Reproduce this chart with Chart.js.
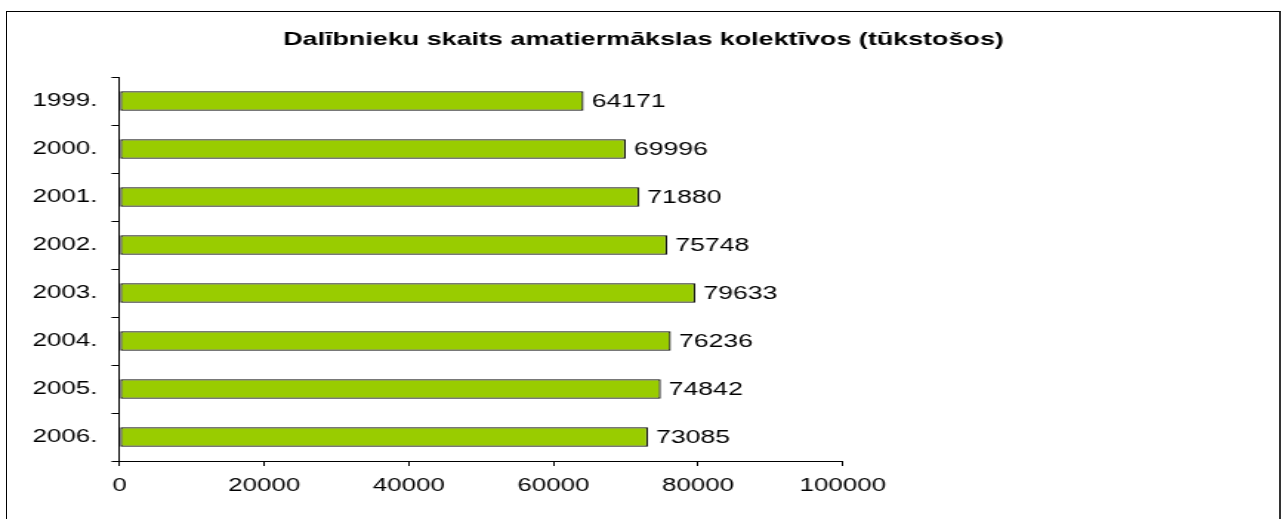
<!DOCTYPE html>
<html>
<head>
<meta charset="utf-8">
<script src="https://cdn.jsdelivr.net/npm/chart.js@4/dist/chart.umd.min.js"></script>
<style>
  body { margin: 0; background: #fff; overflow: hidden; }
  #wrap { position: relative; width: 1284px; height: 519px; }
  #c { position: absolute; left: 0; top: 0; }
  #frame {
    position: absolute; left: 6px; top: 11px; width: 1272px; height: 600px;
    border-left: 1px solid #000; border-top: 1px solid #000; border-right: 2px solid #333;
    pointer-events: none;
  }
</style>
</head>
<body>
<div id="wrap">
  <!-- drawn narrow and stretched wide, like the original picture -->
  <canvas id="c" width="868" height="519" style="width:1284px;height:519px"></canvas>
  <div id="frame"></div>
</div>
<script>
const chartTitle = "Dalībnieku skaits amatiermākslas kolektīvos (tūkstošos)";
const years = ["1999.", "2000.", "2001.", "2002.", "2003.", "2004.", "2005.", "2006."];
const members = [64171, 69996, 71880, 75748, 79633, 76236, 74842, 73085];
const xTicks = [0, 20000, 40000, 60000, 80000, 100000];

const STRETCH = 1284 / 868;
const FONT = '"Liberation Sans", Arial, sans-serif';

Chart.defaults.font.family = FONT;
Chart.defaults.font.size = 17.5;
Chart.defaults.color = "#000";

// title across the whole canvas, not only the plot
const titlePlugin = {
  id: "wideTitle",
  afterDraw(chart) {
    const ctx = chart.ctx;
    ctx.save();
    ctx.font = "bold 18.2px " + FONT;
    ctx.fillStyle = "#000";
    ctx.textAlign = "center";
    ctx.textBaseline = "middle";
    ctx.fillText(chartTitle, chart.width / 2 + 1, 40);
    ctx.restore();
  },
};

// value next to the end of each bar
const valueLabels = {
  id: "valueLabels",
  afterDatasetsDraw(chart) {
    const ctx = chart.ctx;
    const meta = chart.getDatasetMeta(0);
    ctx.save();
    ctx.font = "18px " + FONT;
    ctx.fillStyle = "#000";
    ctx.textAlign = "left";
    ctx.textBaseline = "middle";
    meta.data.forEach((bar, i) => {
      ctx.fillText(String(members[i]), bar.x + 8 / STRETCH, bar.y + 1);
    });
    ctx.restore();
  },
};

const chartRight = 842.7 / STRETCH;

new Chart(document.getElementById("c"), {
  type: "bar",
  data: {
    labels: years,
    datasets: [
      {
        data: members,
        backgroundColor: "#99CC00",
        borderColor: "#111",
        borderWidth: 1.3,
        borderSkipped: false,
        categoryPercentage: 1,
        barPercentage: 0.41,
      },
    ],
  },
  options: {
    indexAxis: "y",
    responsive: false,
    devicePixelRatio: 1,
    animation: false,
    layout: { padding: { top: 77, bottom: 13, left: 0, right: 868 - chartRight } },
    plugins: {
      legend: { display: false },
      title: { display: false },
      tooltip: { enabled: false },
    },
    scales: {
      x: {
        min: xTicks[0],
        max: xTicks[xTicks.length - 1],
        afterBuildTicks: (scale) => {
          scale.ticks = xTicks.map((v) => ({ value: v }));
        },
        ticks: { padding: 9.5, callback: (v) => String(v) },
        grid: { drawOnChartArea: false, tickLength: 5, color: "#000" },
        border: { color: "#000" },
      },
      y: {
        grid: { offset: true, drawOnChartArea: false, tickLength: 8 / STRETCH, color: "#000" },
        border: { color: "#000" },
        ticks: { padding: 14 / STRETCH },
        afterFit: (scale) => {
          scale.width = 119.5 / STRETCH;
        },
      },
    },
  },
  plugins: [titlePlugin, valueLabels],
});
</script>
</body>
</html>
